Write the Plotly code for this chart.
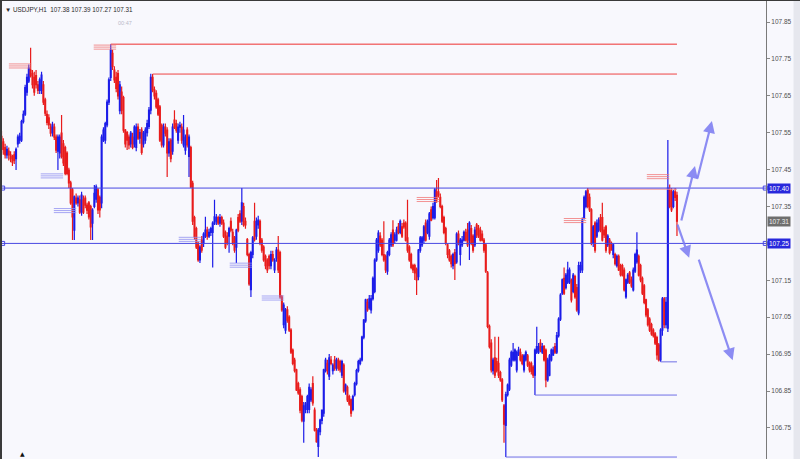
import plotly.graph_objects as go

# ---------------- DATA (USDJPY, H1 candles: open, high, low, close) ----------------
seg_a = [
    (107.540, 107.555, 107.495, 107.505), (107.525, 107.535, 107.490, 107.505),
    (107.510, 107.520, 107.480, 107.490), (107.490, 107.515, 107.480, 107.505),
    (107.500, 107.510, 107.475, 107.490), (107.490, 107.500, 107.470, 107.480),
    (107.485, 107.490, 107.460, 107.470), (107.490, 107.500, 107.465, 107.475),
    (107.480, 107.510, 107.449, 107.505), (107.520, 107.545, 107.510, 107.538),
    (107.530, 107.550, 107.520, 107.540), (107.530, 107.585, 107.525, 107.580),
    (107.580, 107.610, 107.575, 107.600), (107.600, 107.680, 107.595, 107.672),
    (107.660, 107.710, 107.650, 107.700), (107.690, 107.735, 107.685, 107.725),
    (107.720, 107.780, 107.700, 107.705), (107.710, 107.720, 107.670, 107.680),
    (107.700, 107.715, 107.650, 107.660), (107.705, 107.720, 107.670, 107.680),
    (107.680, 107.690, 107.655, 107.665), (107.665, 107.700, 107.655, 107.693),
    (107.665, 107.715, 107.655, 107.706), (107.680, 107.690, 107.625, 107.633),
    (107.639, 107.645, 107.595, 107.603), (107.600, 107.610, 107.570, 107.578),
    (107.590, 107.600, 107.560, 107.571), (107.565, 107.575, 107.540, 107.549),
    (107.550, 107.580, 107.540, 107.571), (107.565, 107.575, 107.530, 107.538),
    (107.538, 107.545, 107.495, 107.503), (107.500, 107.545, 107.449, 107.538),
    (107.495, 107.545, 107.480, 107.538), (107.549, 107.598, 107.480, 107.486),
    (107.520, 107.530, 107.460, 107.468), (107.510, 107.515, 107.435, 107.440),
    (107.495, 107.500, 107.435, 107.440), (107.449, 107.455, 107.400, 107.414),
    (107.414, 107.420, 107.355, 107.360), (107.395, 107.400, 107.259, 107.322),
    (107.286, 107.380, 107.259, 107.376), (107.373, 107.385, 107.355, 107.360),
    (107.360, 107.380, 107.350, 107.373), (107.368, 107.380, 107.330, 107.335),
    (107.335, 107.390, 107.325, 107.381), (107.368, 107.380, 107.330, 107.335),
    (107.373, 107.380, 107.345, 107.354), (107.354, 107.360, 107.330, 107.340),
    (107.360, 107.365, 107.315, 107.322), (107.350, 107.355, 107.259, 107.295),
    (107.305, 107.345, 107.259, 107.340), (107.350, 107.408, 107.345, 107.386),
    (107.370, 107.410, 107.360, 107.403), (107.395, 107.400, 107.330, 107.341),
    (107.375, 107.380, 107.320, 107.341), (107.360, 107.545, 107.345, 107.538),
    (107.530, 107.565, 107.525, 107.557), (107.530, 107.580, 107.520, 107.575),
    (107.571, 107.640, 107.565, 107.633), (107.633, 107.700, 107.625, 107.693),
    (107.700, 107.790, 107.690, 107.774),
]
seg_b = [
    (107.765, 107.775, 107.720, 107.730), (107.720, 107.730, 107.685, 107.693),
    (107.700, 107.715, 107.660, 107.670), (107.710, 107.720, 107.640, 107.650),
    (107.610, 107.690, 107.600, 107.680), (107.660, 107.675, 107.600, 107.611),
    (107.645, 107.650, 107.550, 107.557), (107.557, 107.560, 107.510, 107.520),
    (107.550, 107.555, 107.503, 107.530), (107.538, 107.545, 107.505, 107.517),
    (107.520, 107.555, 107.510, 107.549), (107.538, 107.550, 107.505, 107.510),
    (107.520, 107.570, 107.510, 107.565), (107.510, 107.575, 107.500, 107.565),
    (107.565, 107.575, 107.530, 107.535), (107.535, 107.560, 107.520, 107.550),
    (107.557, 107.565, 107.490, 107.497), (107.520, 107.555, 107.510, 107.549),
    (107.530, 107.565, 107.520, 107.557), (107.550, 107.585, 107.540, 107.575),
    (107.567, 107.620, 107.560, 107.611), (107.611, 107.710, 107.600, 107.700),
    (107.700, 107.709, 107.660, 107.666), (107.666, 107.675, 107.640, 107.650),
    (107.657, 107.665, 107.615, 107.620), (107.639, 107.645, 107.595, 107.600),
    (107.620, 107.625, 107.525, 107.530), (107.570, 107.575, 107.510, 107.517),
    (107.517, 107.575, 107.510, 107.565), (107.565, 107.575, 107.540, 107.549),
    (107.557, 107.565, 107.430, 107.495), (107.495, 107.535, 107.485, 107.525),
    (107.530, 107.535, 107.470, 107.480), (107.500, 107.575, 107.490, 107.565),
    (107.584, 107.611, 107.560, 107.565), (107.575, 107.585, 107.550, 107.557),
    (107.530, 107.575, 107.520, 107.565), (107.565, 107.580, 107.550, 107.570),
    (107.565, 107.575, 107.520, 107.530), (107.517, 107.598, 107.510, 107.557),
    (107.503, 107.545, 107.490, 107.538), (107.557, 107.565, 107.510, 107.517),
    (107.486, 107.545, 107.430, 107.538), (107.510, 107.515, 107.400, 107.403),
    (107.413, 107.420, 107.300, 107.310), (107.320, 107.325, 107.260, 107.268),
    (107.290, 107.295, 107.235, 107.240), (107.250, 107.255, 107.200, 107.205),
    (107.205, 107.245, 107.197, 107.240), (107.259, 107.270, 107.225, 107.232),
    (107.250, 107.280, 107.240, 107.275), (107.270, 107.322, 107.265, 107.286),
    (107.286, 107.295, 107.260, 107.270), (107.270, 107.290, 107.265, 107.280),
    (107.280, 107.295, 107.270, 107.290), (107.280, 107.310, 107.185, 107.305),
    (107.305, 107.368, 107.300, 107.322), (107.310, 107.330, 107.300, 107.320),
    (107.320, 107.325, 107.300, 107.305), (107.305, 107.330, 107.295, 107.320),
    (107.320, 107.325, 107.300, 107.305), (107.305, 107.315, 107.265, 107.270),
    (107.280, 107.285, 107.235, 107.240),
]
seg_c = [
    (107.270, 107.280, 107.245, 107.250), (107.270, 107.295, 107.225, 107.290),
    (107.310, 107.320, 107.280, 107.286), (107.280, 107.290, 107.245, 107.250),
    (107.265, 107.270, 107.225, 107.232), (107.240, 107.290, 107.197, 107.286),
    (107.320, 107.330, 107.280, 107.286), (107.330, 107.340, 107.305, 107.310),
    (107.310, 107.400, 107.300, 107.360), (107.350, 107.360, 107.295, 107.300),
    (107.310, 107.320, 107.290, 107.300), (107.260, 107.265, 107.215, 107.220),
    (107.220, 107.225, 107.135, 107.140), (107.125, 107.230, 107.105, 107.225),
    (107.220, 107.270, 107.210, 107.265), (107.310, 107.360, 107.255, 107.260),
    (107.270, 107.320, 107.260, 107.310), (107.300, 107.325, 107.290, 107.313),
    (107.310, 107.315, 107.245, 107.250), (107.259, 107.265, 107.225, 107.232),
    (107.240, 107.245, 107.200, 107.205), (107.215, 107.220, 107.180, 107.190),
    (107.205, 107.210, 107.170, 107.178), (107.215, 107.220, 107.180, 107.190),
    (107.190, 107.230, 107.180, 107.220), (107.220, 107.230, 107.200, 107.205),
    (107.178, 107.210, 107.170, 107.205), (107.210, 107.240, 107.200, 107.232),
    (107.232, 107.270, 107.170, 107.178), (107.225, 107.230, 107.100, 107.105),
    (107.105, 107.110, 107.065, 107.070), (107.030, 107.090, 107.020, 107.083),
    (107.015, 107.075, 107.005, 107.070), (107.070, 107.080, 107.035, 107.042),
    (107.050, 107.055, 107.010, 107.015), (107.015, 107.020, 106.950, 106.955),
    (106.961, 106.965, 106.920, 106.925), (106.934, 106.940, 106.900, 106.905),
    (106.907, 106.910, 106.850, 106.853), (106.870, 106.875, 106.840, 106.845),
    (106.853, 106.860, 106.790, 106.798), (106.835, 106.840, 106.765, 106.771),
    (106.768, 106.820, 106.710, 106.810), (106.800, 106.820, 106.790, 106.815),
    (106.800, 106.840, 106.790, 106.835), (106.800, 106.870, 106.790, 106.860),
    (106.826, 106.860, 106.820, 106.853), (106.870, 106.890, 106.810, 106.818),
    (106.798, 106.805, 106.740, 106.744), (106.744, 106.750, 106.710, 106.713),
    (106.700, 106.750, 106.671, 106.744), (106.740, 106.775, 106.730, 106.771),
    (106.770, 106.800, 106.760, 106.798), (106.790, 106.910, 106.780, 106.907),
    (106.905, 106.940, 106.900, 106.934), (106.925, 106.935, 106.895, 106.905),
    (106.890, 106.950, 106.880, 106.940), (106.934, 106.945, 106.920, 106.925),
    (106.905, 106.925, 106.895, 106.920),
]
seg_d = [
    (106.934, 106.945, 106.905, 106.912), (106.912, 106.940, 106.905, 106.934),
    (106.934, 106.940, 106.905, 106.912), (106.930, 106.935, 106.900, 106.907),
    (106.893, 106.935, 106.885, 106.930), (106.920, 106.925, 106.845, 106.850),
    (106.850, 106.870, 106.840, 106.866), (106.860, 106.865, 106.820, 106.826),
    (106.835, 106.840, 106.810, 106.815), (106.826, 106.830, 106.780, 106.790),
    (106.800, 106.840, 106.795, 106.835), (106.840, 106.875, 106.835, 106.870),
    (106.870, 106.910, 106.865, 106.905), (106.905, 106.935, 106.900, 106.930),
    (106.925, 106.940, 106.920, 106.934), (106.934, 107.000, 106.930, 106.996),
    (106.996, 107.045, 106.990, 107.042), (107.040, 107.100, 107.035, 107.097),
    (107.090, 107.100, 107.065, 107.070), (107.075, 107.110, 107.070, 107.100),
    (107.070, 107.110, 107.060, 107.100), (107.100, 107.160, 107.095, 107.155),
    (107.120, 107.210, 107.115, 107.205), (107.205, 107.265, 107.200, 107.259),
    (107.232, 107.286, 107.225, 107.278), (107.270, 107.280, 107.240, 107.246),
    (107.259, 107.265, 107.215, 107.220), (107.220, 107.310, 107.200, 107.205),
    (107.215, 107.220, 107.170, 107.178), (107.175, 107.230, 107.165, 107.225),
    (107.220, 107.265, 107.215, 107.259), (107.246, 107.280, 107.240, 107.273),
    (107.286, 107.313, 107.240, 107.246), (107.259, 107.280, 107.250, 107.273),
    (107.259, 107.295, 107.255, 107.286), (107.295, 107.305, 107.275, 107.280),
    (107.280, 107.315, 107.275, 107.310), (107.295, 107.305, 107.265, 107.270),
    (107.305, 107.315, 107.290, 107.295), (107.305, 107.310, 107.255, 107.259),
    (107.265, 107.368, 107.225, 107.232), (107.240, 107.245, 107.200, 107.205),
    (107.220, 107.225, 107.180, 107.185), (107.190, 107.195, 107.170, 107.178),
    (107.190, 107.195, 107.151, 107.170), (107.180, 107.185, 107.110, 107.151),
    (107.160, 107.235, 107.150, 107.232), (107.232, 107.270, 107.225, 107.265),
    (107.246, 107.270, 107.240, 107.265), (107.259, 107.300, 107.250, 107.295),
    (107.305, 107.315, 107.255, 107.259), (107.280, 107.315, 107.275, 107.310),
    (107.270, 107.335, 107.260, 107.330), (107.341, 107.350, 107.310, 107.313),
    (107.320, 107.360, 107.315, 107.350), (107.320, 107.400, 107.315, 107.395),
    (107.390, 107.422, 107.360, 107.368), (107.390, 107.427, 107.375, 107.381),
    (107.375, 107.385, 107.345, 107.350), (107.350, 107.355, 107.305, 107.310),
    (107.320, 107.325, 107.275, 107.280), (107.290, 107.295, 107.245, 107.250),
    (107.246, 107.250, 107.210, 107.220), (107.230, 107.235, 107.200, 107.205),
    (107.215, 107.220, 107.185, 107.195),
]
seg_e = [
    (107.190, 107.225, 107.180, 107.220), (107.225, 107.235, 107.151, 107.195),
    (107.200, 107.280, 107.195, 107.275), (107.275, 107.285, 107.245, 107.250),
    (107.220, 107.265, 107.190, 107.259), (107.246, 107.270, 107.240, 107.259),
    (107.259, 107.285, 107.255, 107.280), (107.280, 107.290, 107.255, 107.259),
    (107.286, 107.305, 107.240, 107.246), (107.259, 107.310, 107.205, 107.305),
    (107.290, 107.300, 107.245, 107.250), (107.270, 107.275, 107.225, 107.232),
    (107.246, 107.295, 107.240, 107.286), (107.300, 107.305, 107.265, 107.273),
    (107.290, 107.300, 107.265, 107.270), (107.286, 107.295, 107.255, 107.259),
    (107.275, 107.285, 107.255, 107.259), (107.259, 107.265, 107.225, 107.232),
    (107.246, 107.250, 107.170, 107.175), (107.170, 107.175, 107.020, 107.025),
    (107.025, 107.030, 106.965, 106.970), (106.980, 106.990, 106.900, 106.907),
    (106.905, 106.940, 106.895, 106.934), (106.940, 106.997, 106.885, 106.893),
    (106.930, 106.940, 106.900, 106.905), (106.925, 106.997, 106.885, 106.893),
    (106.900, 106.905, 106.875, 106.880), (106.880, 106.885, 106.820, 106.826),
    (106.810, 106.815, 106.710, 106.760), (106.757, 106.848, 106.671, 106.840),
    (106.840, 106.870, 106.835, 106.866), (106.855, 106.940, 106.850, 106.934),
    (106.920, 106.960, 106.915, 106.955), (106.934, 106.980, 106.930, 106.955),
    (106.934, 106.965, 106.930, 106.961), (106.907, 106.960, 106.900, 106.955),
    (106.950, 106.970, 106.945, 106.961), (106.955, 106.965, 106.930, 106.934),
    (106.945, 106.950, 106.920, 106.925), (106.907, 106.950, 106.900, 106.945),
    (106.934, 106.960, 106.930, 106.955), (106.945, 106.950, 106.915, 106.920),
    (106.925, 106.930, 106.900, 106.907), (106.925, 106.930, 106.895, 106.903),
    (106.915, 106.920, 106.885, 106.893), (106.893, 106.965, 106.839, 106.961),
    (106.955, 107.024, 106.950, 106.970), (106.955, 106.980, 106.950, 106.970),
    (106.980, 106.990, 106.955, 106.961), (106.955, 106.980, 106.950, 106.970),
    (106.970, 106.975, 106.930, 106.934), (106.961, 106.965, 106.860, 106.880),
    (106.880, 106.940, 106.875, 106.934), (106.893, 106.950, 106.890, 106.945),
    (106.934, 106.965, 106.930, 106.961), (106.948, 106.970, 106.945, 106.961),
    (106.970, 106.980, 106.950, 106.955), (106.955, 107.010, 106.950, 107.000),
    (107.000, 107.050, 106.995, 107.045), (107.045, 107.115, 107.040, 107.110),
    (107.115, 107.155, 107.110, 107.151), (107.155, 107.185, 107.110, 107.115),
    (107.130, 107.170, 107.125, 107.164), (107.145, 107.200, 107.140, 107.178),
    (107.145, 107.185, 107.140, 107.178), (107.150, 107.155, 107.090, 107.097),
    (107.120, 107.170, 107.115, 107.164),
]
seg_f = [
    (107.160, 107.165, 107.100, 107.105), (107.130, 107.140, 107.065, 107.070),
    (107.062, 107.200, 107.055, 107.190), (107.178, 107.200, 107.170, 107.190),
    (107.178, 107.320, 107.170, 107.313), (107.320, 107.380, 107.315, 107.375),
    (107.350, 107.395, 107.345, 107.390), (107.395, 107.400, 107.345, 107.350),
    (107.375, 107.385, 107.335, 107.341), (107.341, 107.345, 107.245, 107.250),
    (107.250, 107.300, 107.240, 107.295), (107.305, 107.310, 107.225, 107.232),
    (107.270, 107.315, 107.265, 107.305), (107.286, 107.320, 107.280, 107.313),
    (107.320, 107.330, 107.280, 107.286), (107.320, 107.360, 107.255, 107.259),
    (107.286, 107.295, 107.265, 107.273), (107.295, 107.300, 107.225, 107.232),
    (107.246, 107.275, 107.240, 107.270), (107.259, 107.265, 107.220, 107.225),
    (107.250, 107.255, 107.230, 107.232), (107.220, 107.250, 107.210, 107.246),
    (107.220, 107.225, 107.190, 107.195), (107.190, 107.220, 107.185, 107.215),
    (107.215, 107.220, 107.175, 107.178), (107.190, 107.195, 107.160, 107.165),
    (107.190, 107.195, 107.160, 107.164), (107.178, 107.185, 107.120, 107.124),
    (107.105, 107.155, 107.100, 107.151), (107.145, 107.170, 107.140, 107.164),
    (107.170, 107.175, 107.140, 107.145), (107.151, 107.160, 107.130, 107.135),
    (107.124, 107.185, 107.120, 107.178), (107.175, 107.225, 107.170, 107.220),
    (107.200, 107.280, 107.195, 107.232), (107.215, 107.220, 107.160, 107.164),
    (107.190, 107.195, 107.145, 107.151), (107.155, 107.160, 107.110, 107.115),
    (107.135, 107.140, 107.085, 107.090), (107.097, 107.100, 107.050, 107.056),
    (107.070, 107.075, 107.025, 107.030), (107.045, 107.050, 107.010, 107.015),
    (107.030, 107.035, 107.000, 107.005), (107.015, 107.020, 106.995, 107.000),
    (107.005, 107.010, 106.975, 106.980), (106.995, 107.000, 106.935, 106.948),
    (106.975, 106.980, 106.930, 106.934), (106.934, 107.020, 106.929, 107.015),
    (107.015, 107.105, 107.000, 107.100), (107.100, 107.105, 107.020, 107.030),
    (107.030, 107.105, 107.020, 107.090), (107.020, 107.530, 107.010, 107.400),
    (107.395, 107.410, 107.345, 107.350), (107.390, 107.400, 107.335, 107.341),
    (107.350, 107.395, 107.345, 107.390), (107.390, 107.400, 107.365, 107.375),
    (107.380, 107.390, 107.270, 107.310),
]

# fractal-based level lines: start bar, price level, colour
level_start_bar = [60, 83, 322, 277, 293, 362]
level_price = [107.790, 107.709, 107.397, 106.671, 106.839, 106.929]
level_color = ["#ee3030", "#ee4444", "#f09090", "#7070e6", "#7070e6", "#7070e6"]

# full-width horizontal lines with price tags
hline_price = [107.40, 107.25]
hline_label = ["107.40", "107.25"]
last_price = 107.31

# "≡" swing markers: bar, price, colour
swing_bar = [10.2, 56.8, 234.2, 315.0, 360.6, 27.7, 34.9, 103.5, 131.5, 149.1]
swing_price = [107.731, 107.782, 107.369, 107.312, 107.431,
               107.433, 107.339, 107.261, 107.191, 107.102]
swing_color = ["#f07878"] * 5 + ["#9090f0"] * 5

# projection arrows: (from bar, from price) -> (to bar, to price)
arrow_from_bar = [373.2, 382.0, 371.0, 382.7]
arrow_from_price = [107.308, 107.422, 107.305, 107.210]
arrow_to_bar = [380.9, 390.2, 377.7, 401.6]
arrow_to_price = [107.460, 107.582, 107.211, 106.933]

# right-axis ticks (107.25 is hidden under its price tag in the original)
tick_vals = [106.75, 106.85, 106.95, 107.05, 107.15, 107.35, 107.45,
             107.55, 107.65, 107.75, 107.85]
header_text = "▼ USDJPY,H1  107.38 107.39 107.27 107.31"

# ---------------- BUILD ----------------
bars = seg_a + seg_b + seg_c + seg_d + seg_e + seg_f
opens = [b[0] for b in bars]
highs = [b[1] for b in bars]
lows = [b[2] for b in bars]
closes = [b[3] for b in bars]
idx = list(range(len(bars)))
last_bar = idx[-1]

X_RANGE = [-0.27, 419.9]
Y_RANGE = [106.6657, 107.907]
BG = "#f8f8fd"
FONT = "Liberation Sans"

fig = go.Figure()

for s, p, c in zip(level_start_bar, level_price, level_color):
    fig.add_trace(go.Scatter(x=[s, last_bar], y=[p, p], mode="lines",
                             line=dict(color=c, width=1), hoverinfo="skip",
                             showlegend=False))

fig.add_trace(go.Candlestick(
    x=idx, open=opens, high=highs, low=lows, close=closes,
    increasing=dict(line=dict(color="#1c1ce8", width=1.2), fillcolor="#1c1ce8"),
    decreasing=dict(line=dict(color="#e81c1c", width=1.2), fillcolor="#e81c1c"),
    whiskerwidth=0, hoverinfo="skip", showlegend=False))

for b, p, c in zip(swing_bar, swing_price, swing_color):
    fig.add_trace(go.Scatter(
        x=[b, b, b], y=[p - 0.0055, p, p + 0.0055], mode="markers",
        marker=dict(symbol="line-ew", size=16, line=dict(color=c, width=0.8)),
        hoverinfo="skip", showlegend=False))

for p in hline_price:
    fig.add_shape(type="line", xref="paper", x0=0, x1=1, yref="y", y0=p, y1=p,
                  line=dict(color="#4848e2", width=1))
    fig.add_trace(go.Scatter(x=[X_RANGE[0] + 0.9, X_RANGE[1] - 0.4], y=[p, p],
                             mode="markers", cliponaxis=False,
                             marker=dict(symbol="square-open", size=4,
                                         color="#4848e2", line=dict(width=1)),
                             hoverinfo="skip", showlegend=False))

annotations = []
for p, t in zip(hline_price, hline_label):
    annotations.append(dict(xref="paper", x=1, xanchor="left", xshift=1,
                            yref="y", y=p, yanchor="middle", text=t,
                            showarrow=False, bgcolor="#2828dc", borderpad=1,
                            font=dict(family=FONT, size=6.5, color="white")))
annotations.append(dict(xref="paper", x=1, xanchor="left", xshift=1,
                        yref="y", y=last_price, yanchor="middle",
                        text=f"{last_price:.2f}", showarrow=False,
                        bgcolor="#6e6e6e", borderpad=1,
                        font=dict(family=FONT, size=6.5, color="#eeeeee")))

for fb, fp, tb, tp in zip(arrow_from_bar, arrow_from_price, arrow_to_bar, arrow_to_price):
    annotations.append(dict(x=tb, y=tp, ax=fb, ay=fp, xref="x", yref="y",
                            axref="x", ayref="y", text="", showarrow=True,
                            arrowhead=2, arrowsize=1.1, arrowwidth=2.2,
                            arrowcolor="rgba(122,122,242,0.85)"))

annotations.append(dict(xref="paper", yref="paper", x=0, y=1, xanchor="left",
                        yanchor="top", xshift=2, yshift=-3, text=header_text,
                        showarrow=False,
                        font=dict(family=FONT, size=6.3, color="#2a2a2a")))
annotations.append(dict(xref="x", yref="paper", x=68, y=1, xanchor="center",
                        yanchor="top", yshift=-17, text="00:47", showarrow=False,
                        font=dict(family=FONT, size=5.5, color="#b8b8c8")))
annotations.append(dict(xref="x", yref="paper", x=11.3, y=0, xanchor="center",
                        yanchor="bottom", yshift=0, text="▲", showarrow=False,
                        font=dict(family="DejaVu Sans", size=6, color="#111111")))

shapes_extra = [
    dict(type="rect", xref="paper", yref="paper", x0=1.036, x1=1.05, y0=-0.01,
         y1=1.01, fillcolor="#e6e7ee", line=dict(width=0), layer="below"),
    dict(type="line", xref="paper", yref="paper", x0=-0.002, x1=1.05, y0=1.002,
         y1=1.002, line=dict(color="#3a3a3a", width=2)),
    dict(type="line", xref="paper", yref="paper", x0=0, x1=0, y0=0, y1=1.0,
         line=dict(color="#3a3a3a", width=2)),
]
for s in shapes_extra:
    fig.add_shape(**s)

fig.update_layout(
    width=800, height=459,
    margin=dict(l=1, r=34, t=1, b=0, autoexpand=False),
    paper_bgcolor=BG, plot_bgcolor=BG,
    showlegend=False, boxgap=0.3,
    annotations=annotations,
    xaxis=dict(range=X_RANGE, visible=False, rangeslider=dict(visible=False),
               fixedrange=True),
    yaxis=dict(range=Y_RANGE, side="right", tickvals=tick_vals,
               ticktext=[f"{v:.2f}" for v in tick_vals],
               tickfont=dict(family=FONT, size=6.5, color="#505050"),
               ticks="outside", ticklen=3, tickcolor="#888888",
               showline=True, linecolor="#7a7a7a", linewidth=1,
               showgrid=False, zeroline=False, fixedrange=True),
)

fig.write_html("out.html",
               config={"displayModeBar": False, "staticPlot": True},
               post_script="document.body.style.margin='0';"
                           "document.body.style.overflow='hidden';")
